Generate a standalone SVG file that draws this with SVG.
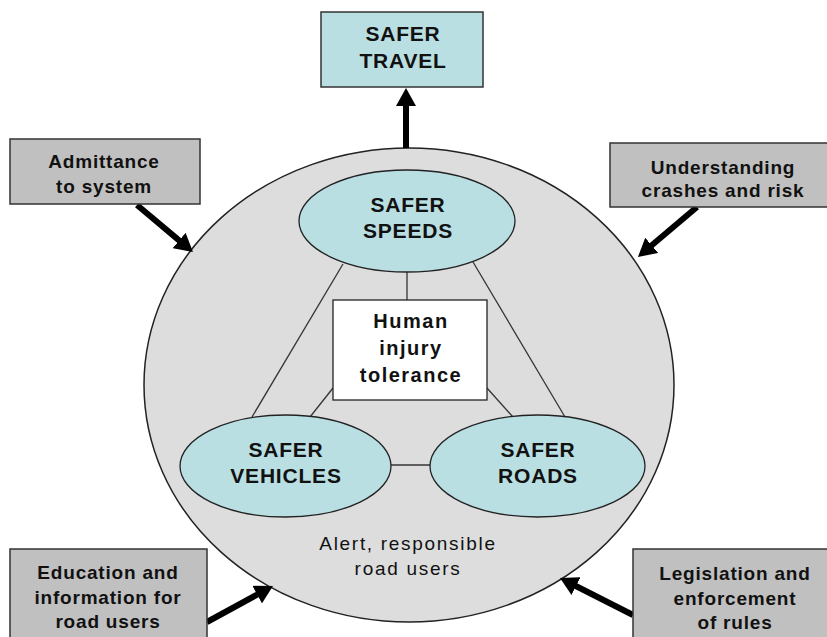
<svg xmlns="http://www.w3.org/2000/svg" width="827" height="637" viewBox="0 0 827 637">
<style>
  .t { font-family: "Liberation Sans", Arial, sans-serif; fill: #111; text-anchor: middle; }
  .b { font-weight: bold; font-size: 19px; letter-spacing: 0.8px; }
  .h { font-weight: bold; font-size: 20px; letter-spacing: 1.5px; }
  .big { font-weight: bold; font-size: 21px; letter-spacing: 0.8px; }
  .reg { font-size: 19px; letter-spacing: 1.7px; }
  .gbox { fill: #c0c0c0; stroke: #333; stroke-width: 1.5; }
  .tbox { fill: #b9dfe3; stroke: #333; stroke-width: 1.5; }
  .ell { fill: #b9dfe3; stroke: #222; stroke-width: 1.3; }
  .link { stroke: #333; stroke-width: 1.3; fill: none; }
  .arrow { stroke: #000; stroke-width: 6; fill: none; marker-end: url(#ah); }
</style>
<defs>
  <marker id="ah" markerUnits="userSpaceOnUse" markerWidth="18" markerHeight="20" refX="8" refY="10" orient="auto">
    <path d="M0,0 L18,10 L0,20 z" fill="#000"/>
  </marker>
</defs>
<rect width="827" height="637" fill="#fff"/>

<g id="system">
  <ellipse cx="409" cy="385" rx="265" ry="237" fill="#dddddd" stroke="#222" stroke-width="1.5"/>
  <text class="t reg" x="408" y="550">Alert, responsible</text>
  <text class="t reg" x="408" y="575">road users</text>
</g>

<g id="connectors">
  <line class="link" x1="407" y1="272" x2="407" y2="300"/>
  <line class="link" x1="343" y1="264" x2="252" y2="417"/>
  <line class="link" x1="473" y1="262" x2="565" y2="417"/>
  <line class="link" x1="333" y1="388" x2="310" y2="417"/>
  <line class="link" x1="487" y1="388" x2="513" y2="417"/>
  <line class="link" x1="391" y1="465" x2="430" y2="465"/>
  <line class="arrow" x1="406" y1="148" x2="406" y2="98"/>
  <line class="arrow" x1="137" y1="205" x2="185.3" y2="245.6"/>
  <line class="arrow" x1="697" y1="207" x2="645.6" y2="250.5"/>
  <line class="arrow" x1="207" y1="622" x2="264.2" y2="590.8"/>
  <line class="arrow" x1="633" y1="615" x2="568.9" y2="582.5"/>
</g>

<g id="safer-travel">
  <rect class="tbox" x="321" y="12" width="162" height="75"/>
  <text class="t big" x="403" y="41">SAFER</text>
  <text class="t big" x="403" y="68">TRAVEL</text>
</g>

<g id="admittance">
  <rect class="gbox" x="10" y="139" width="190" height="65"/>
  <text class="t b" x="104" y="168">Admittance</text>
  <text class="t b" x="104" y="193">to system</text>
</g>

<g id="understanding">
  <rect class="gbox" x="610" y="143" width="220" height="64"/>
  <text class="t b" x="723" y="174">Understanding</text>
  <text class="t b" x="723" y="197">crashes and risk</text>
</g>

<g id="education">
  <rect class="gbox" x="10" y="549" width="197" height="95"/>
  <text class="t b" x="108" y="579">Education and</text>
  <text class="t b" x="108" y="604">information for</text>
  <text class="t b" x="108" y="628">road users</text>
</g>

<g id="legislation">
  <rect class="gbox" x="633" y="549" width="200" height="95"/>
  <text class="t b" x="735" y="580">Legislation and</text>
  <text class="t b" x="735" y="605">enforcement</text>
  <text class="t b" x="735" y="629">of rules</text>
</g>

<g id="safer-speeds">
  <ellipse class="ell" cx="407" cy="221" rx="108" ry="51"/>
  <text class="t big" x="408" y="212">SAFER</text>
  <text class="t big" x="408" y="238">SPEEDS</text>
</g>

<g id="human-injury-tolerance">
  <rect x="333" y="300" width="154" height="100" fill="#fff" stroke="#222" stroke-width="1.3"/>
  <text class="t h" x="411" y="328">Human</text>
  <text class="t h" x="411" y="355">injury</text>
  <text class="t h" x="411" y="382">tolerance</text>
</g>

<g id="safer-vehicles">
  <ellipse class="ell" cx="285.5" cy="466" rx="105.5" ry="51"/>
  <text class="t big" x="286" y="457">SAFER</text>
  <text class="t big" x="286" y="483">VEHICLES</text>
</g>

<g id="safer-roads">
  <ellipse class="ell" cx="537.5" cy="466" rx="107.5" ry="51"/>
  <text class="t big" x="538" y="457">SAFER</text>
  <text class="t big" x="538" y="483">ROADS</text>
</g>
</svg>
